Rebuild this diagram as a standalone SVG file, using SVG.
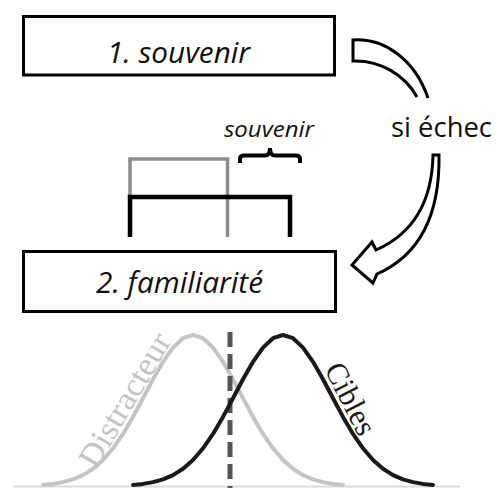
<svg xmlns="http://www.w3.org/2000/svg" width="498" height="488" viewBox="0 0 498 488">
<style>
.box{fill:#fff;stroke:#000;stroke-width:3}
.lbl{font-family:"Open Sans","Liberation Sans",sans-serif;font-style:italic;fill:#111}
.arrow{fill:#fff;stroke:#000;stroke-width:3;stroke-linejoin:miter}
.serif{font-family:"Liberation Serif","Times New Roman",serif}
</style>
<rect width="498" height="488" fill="#fff"/>
<g id="box1">
<rect class="box" x="23.5" y="16.5" width="311" height="58.5"/>
<text class="lbl" x="107" y="63" font-size="30" textLength="143" lengthAdjust="spacingAndGlyphs">1. souvenir</text>
</g>
<g id="box2">
<rect class="box" x="23.5" y="251.5" width="312" height="60"/>
<text class="lbl" x="96" y="293" font-size="30" textLength="167" lengthAdjust="spacingAndGlyphs">2. familiarité</text>
</g>
<g id="condition">
<text x="391" y="137" font-family="'Open Sans','Liberation Sans',sans-serif" font-size="27" fill="#111" textLength="101" lengthAdjust="spacingAndGlyphs">si échec</text>
</g>
<g id="connectors">
<path class="arrow" d="M428,98 C415,60 385,38 353,40 L353,61 C380,60 405,75 417,97"/>
<path class="arrow" d="M433,155 L439,155 C440,215 420,255 377,274 L373,283 L352,265 L372,242 L376,250 C410,235 432,205 433,155 Z"/>
</g>
<g id="brackets" fill="none">
<path d="M130,199 V159 H227.5 V237" stroke="#8c8c8c" stroke-width="3.5"/>
<path d="M130,237 V197 H290 V237" stroke="#000" stroke-width="4.5"/>
<path d="M240,163 V159 Q240,155.5 244,155.5 H265 Q270,155.5 270,148 Q270,155.5 275,155.5 H296 Q300,155.5 300,159 V163" stroke="#000" stroke-width="4"/>
<text class="lbl" x="224" y="137" font-size="22" textLength="90" lengthAdjust="spacingAndGlyphs">souvenir</text>
</g>
<g id="distributions" fill="none">
<line x1="13" y1="486.5" x2="460" y2="486.5" stroke="#dcdcdc" stroke-width="2"/>
<polyline stroke="#c4c4c4" stroke-width="4" stroke-linejoin="round" stroke-linecap="round" points="43,484.9 53,483.9 63,482.1 73,479.4 83,475.1 93,468.8 103,460 113,448.3 123,433.9 133,416.9 143,398.2 153,379.3 163,361.8 173,347.6 183,338.2 193,335 203,338.2 213,347.6 223,361.8 233,379.3 243,398.2 253,416.9 263,433.9 273,448.3 283,460 293,468.8 303,475.1 313,479.4 323,482.1 333,483.9 343,484.9"/>
<line x1="230" y1="332" x2="230" y2="488" stroke="#555" stroke-width="5" stroke-dasharray="15 7"/>
<polyline stroke="#1a1a1a" stroke-width="4" stroke-linejoin="round" stroke-linecap="round" points="133,484.9 143,483.9 153,482.1 163,479.4 173,475.1 183,468.8 193,460 203,448.3 213,433.9 223,416.9 233,398.2 243,379.3 253,361.8 263,347.6 273,338.2 283,335 293,338.2 303,347.6 313,361.8 323,379.3 333,398.2 343,416.9 353,433.9 363,448.3 373,460 383,468.8 393,475.1 403,479.4 413,482.1 423,483.9 433,484.9"/>
<text class="serif" transform="translate(96,470) rotate(-59.5)" font-size="33" fill="#c4c4c4" textLength="150" lengthAdjust="spacingAndGlyphs">Distracteur</text>
<text class="serif" transform="translate(324,369) rotate(63)" font-size="31" fill="#1a1a1a" textLength="77" lengthAdjust="spacingAndGlyphs">Cibles</text>
</g>
</svg>
